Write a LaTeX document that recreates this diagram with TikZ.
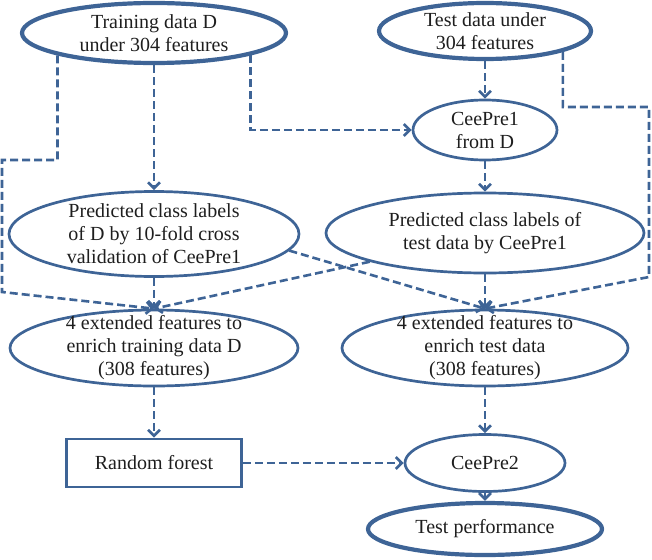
\documentclass[tikz,border=0pt]{standalone}
\usepackage{fontspec}
\setmainfont{Liberation Serif}
\usetikzlibrary{shapes.geometric,arrows.meta,positioning}
\definecolor{flowblue}{RGB}{62,100,150}
\definecolor{txtgray}{RGB}{30,30,30}

\begin{document}
\begin{tikzpicture}[x=1pt,y=-1pt,
  blob/.style={draw=flowblue, shape=ellipse, line width=2.7pt, inner xsep=0pt, inner ysep=-6pt, align=center, text=txtgray, font=\fontsize{20}{23}\selectfont},
  thickblob/.style={blob, line width=4.2pt},
  box/.style={draw=flowblue, shape=rectangle, line width=2.7pt, minimum width=175pt, minimum height=48pt, text=txtgray, font=\fontsize{20}{23}\selectfont},
  flow/.style={draw=flowblue, line width=2.6pt, dash pattern=on 8pt off 4pt, -{Straight Barb[length=6pt,width=12pt]}}]
\useasboundingbox (0,0) rectangle (652,559);
% inputs
\node[thickblob, minimum width=264pt, minimum height=60pt] (train) at (154,33) {Training data D\\under 304 features};
\node[thickblob, minimum width=212pt, minimum height=56pt] (test) at (485,31) {Test data under\\304 features};
\node[blob, minimum width=144pt, minimum height=60pt] (cp1) at (485,130) {CeePre1\\from D};
% predicted labels
\node[blob, minimum width=290pt, minimum height=85pt] (pd) at (154,234) {Predicted class labels\\of D by 10-fold cross\\validation of CeePre1};
\node[blob, minimum width=318pt, minimum height=80pt] (pt) at (485,233) {Predicted class labels of\\test data by CeePre1};
% extended features
\node[blob, minimum width=288pt, minimum height=76pt] (ed) at (154,348) {4 extended features to\\enrich training data D\\(308 features)};
\node[blob, minimum width=286pt, minimum height=76pt] (et) at (485,348) {4 extended features to\\enrich test data\\(308 features)};
% model and result
\node[box] (rf) at (154,463) {Random forest};
\node[blob, minimum width=160pt, minimum height=57pt] (cp2) at (485,463) {CeePre2};
\node[thickblob, minimum width=234pt, minimum height=52pt] (perf) at (485,529) {Test performance};

\coordinate (l1) at (2,160);
\coordinate (l2) at (2,292);
\coordinate (r1) at (649,107);
\coordinate (r2) at (649,277);

\draw[flow] (train) -- (pd);
\draw[flow] (train.-167) |- (l1) -- (l2) -- (ed.north);
\draw[flow] (train.-13) |- (cp1.west);
\draw[flow] (test) -- (cp1);
\draw[flow] (test.-15.5) |- (r1) -- (r2) -- (et.north);
\draw[flow] (cp1) -- (pt);
\draw[flow] (pd) -- (ed);
\draw[flow] (pt) -- (et);
\draw[flow] (pd.-7) -- (et.north);
\draw[flow] (pt.194) -- (ed.north);
\draw[flow] (ed) -- (rf);
\draw[flow] (et) -- (cp2);
\draw[flow] (rf) -- (cp2);
\draw[flow] (cp2) -- (perf);
\end{tikzpicture}
\end{document}
